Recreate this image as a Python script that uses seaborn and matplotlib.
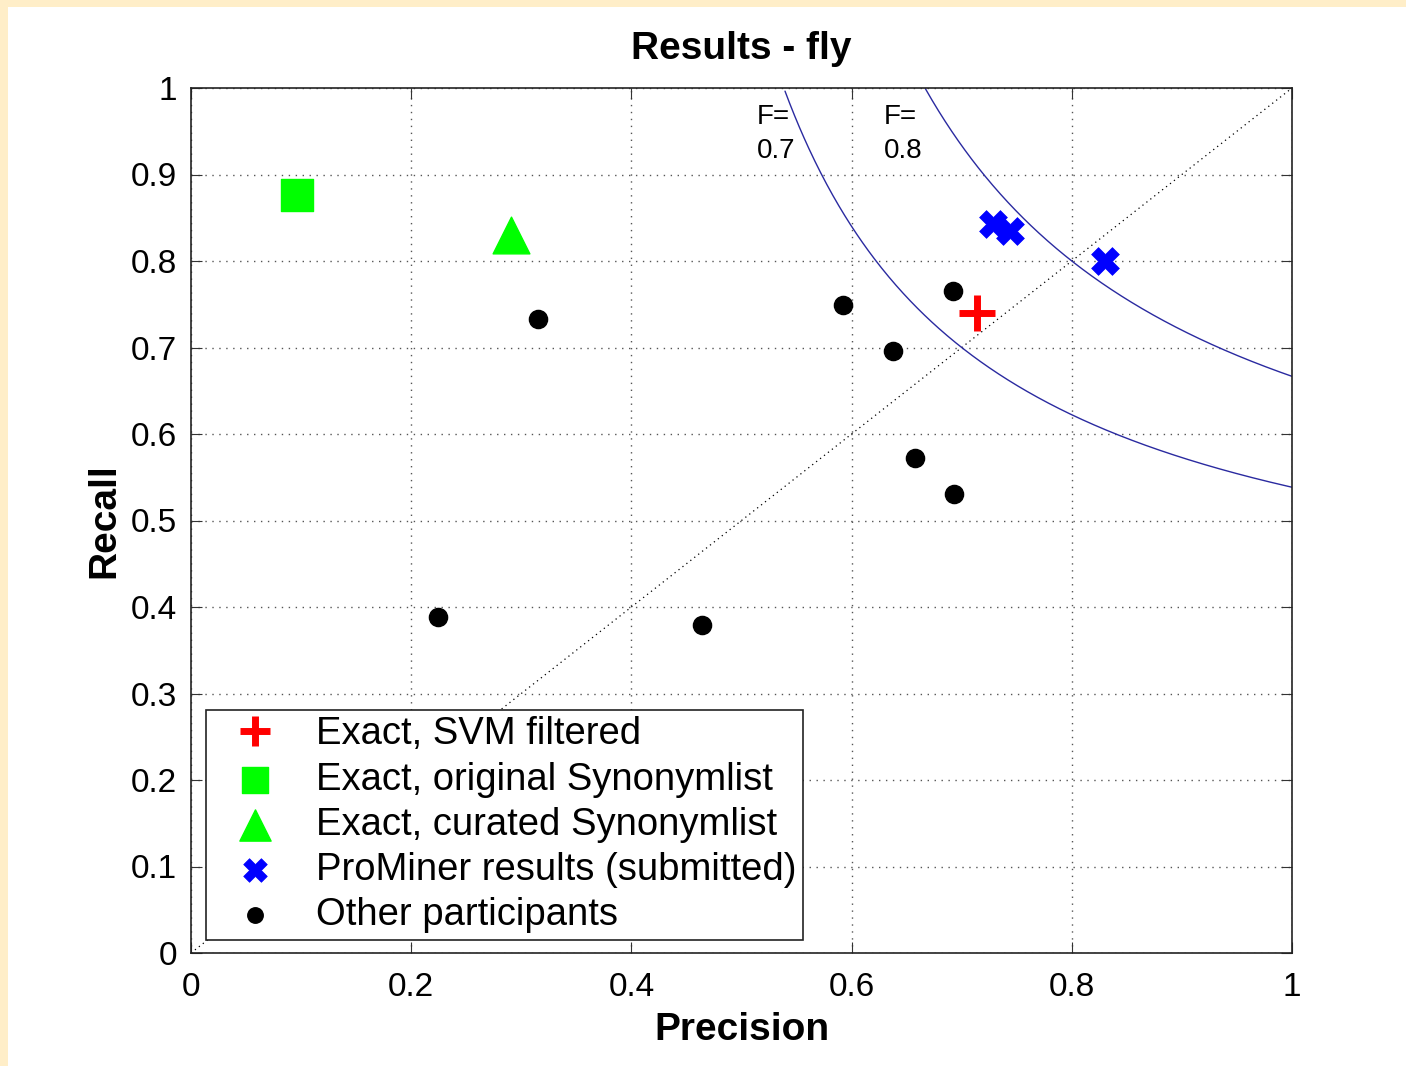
import numpy as np
import pandas as pd
import matplotlib
matplotlib.use("Agg")
import matplotlib.pyplot as plt
import seaborn as sns
from matplotlib.patches import Rectangle

# ---- data ----
svm_p = [0.714]
svm_r = [0.740]
orig_p = [0.096]
orig_r = [0.876]
cur_p = [0.291]
cur_r = [0.830]
prom_p = [0.728, 0.744, 0.830]
prom_r = [0.843, 0.835, 0.800]
other_p = [0.315, 0.592, 0.638, 0.692, 0.658, 0.693, 0.224, 0.464]
other_r = [0.733, 0.749, 0.696, 0.765, 0.572, 0.531, 0.388, 0.379]
f_levels = [0.7, 0.8]
ticks = [0, 0.2, 0.4, 0.6, 0.8, 1]
yticks = [0, 0.1, 0.2, 0.3, 0.4, 0.5, 0.6, 0.7, 0.8, 0.9, 1]
tick_labels_x = ["0", "0.2", "0.4", "0.6", "0.8", "1"]
tick_labels_y = ["0", "0.1", "0.2", "0.3", "0.4", "0.5", "0.6", "0.7", "0.8", "0.9", "1"]

sns.set_style("white")
plt.rcParams['font.family'] = ['Liberation Sans', 'DejaVu Sans']
plt.rcParams['text.color'] = 'black'
plt.rcParams['axes.labelcolor'] = 'black'
plt.rcParams['xtick.color'] = 'black'
plt.rcParams['ytick.color'] = 'black'

fig = plt.figure(figsize=(14.06, 10.66), dpi=100, facecolor="#FFEEC8")
# white panel
fig.patches.append(Rectangle((8 / 1406, 0), 1 - 8 / 1406, 1 - 7 / 1066,
                             transform=fig.transFigure, facecolor="white",
                             edgecolor="none", zorder=-10))
ax = fig.add_axes([191 / 1406, 113 / 1066, 1101 / 1406, 865 / 1066])
ax.set_facecolor("white")

# diagonal and F curves
diag = pd.DataFrame({"p": [0, 1], "r": [0, 1]})
sns.lineplot(data=diag, x="p", y="r", ax=ax, color="black", lw=0.9,
             linestyle=(0, (1, 3)), zorder=1)
for F in f_levels:
    p = np.linspace(F / 2 + 1e-3, 1, 600)
    r = F * p / (2 * p - F)
    m = (r <= 1.0) & (r >= 0)
    dfc = pd.DataFrame({"p": p[m], "r": r[m]})
    sns.lineplot(data=dfc, x="p", y="r", ax=ax, color="#2a2aa0", lw=1.0, zorder=2)

ax.text(0.514, 0.981, "F=\n0.7", fontsize=20, va="top", ha="left", linespacing=1.4)
ax.text(0.629, 0.981, "F=\n0.8", fontsize=20, va="top", ha="left", linespacing=1.4)

ax.plot(svm_p, svm_r, linestyle="none", marker="+", color="#ff0000",
        markersize=26, markeredgewidth=5, label="Exact, SVM filtered", zorder=5)
sns.scatterplot(x=orig_p, y=orig_r, ax=ax, marker="s", s=520, color="#00ff00",
                edgecolor="#00ff00", linewidth=1, label="Exact, original Synonymlist", zorder=5)
sns.scatterplot(x=cur_p, y=cur_r, ax=ax, marker="^", s=700, color="#00ff00",
                edgecolor="#00ff00", linewidth=1, label="Exact, curated Synonymlist", zorder=5)
sns.scatterplot(x=prom_p, y=prom_r, ax=ax, marker="X", s=400, color="#0000ff",
                edgecolor="#0000ff", linewidth=0.5, label="ProMiner results (submitted)", zorder=5)
sns.scatterplot(x=other_p, y=other_r, ax=ax, marker="o", s=170, color="black",
                edgecolor="black", label="Other participants", zorder=5)

ax.set_xlim(0, 1)
ax.set_ylim(0, 1)
ax.set_xticks(ticks)
ax.set_xticklabels(tick_labels_x)
ax.set_yticks(yticks)
ax.set_yticklabels(tick_labels_y)
ax.grid(True, linestyle=(0, (1, 4)), color="#555555", lw=1.0)
ax.tick_params(direction="in", length=8, labelsize=24, color="#333333",
               top=True, right=True, bottom=True, left=True)
ax.tick_params(axis="x", pad=14)
ax.tick_params(axis="y", pad=10)
for s in ax.spines.values():
    s.set_color("#222222")
    s.set_linewidth(1.2)

ax.set_xlabel("Precision", fontsize=28, fontweight="bold", labelpad=6)
ax.set_ylabel("Recall", fontsize=28, fontweight="bold", labelpad=6)
ax.set_title("Results - fly", fontsize=28, fontweight="bold", pad=21)

handles, labels = ax.get_legend_handles_labels()
order = ["Exact, SVM filtered", "Exact, original Synonymlist", "Exact, curated Synonymlist",
         "ProMiner results (submitted)", "Other participants"]
hl = {l: h for h, l in zip(handles, labels)}
leg = ax.legend([hl[o] for o in order], order, loc="lower left",
                bbox_to_anchor=(0.0136, 0.015), borderaxespad=0, fontsize=27.5,
                frameon=True, fancybox=False, edgecolor="#222222", framealpha=1,
                handlelength=2.2, handletextpad=0.5, borderpad=0.18,
                labelspacing=0.24, markerscale=0.85)
leg.get_frame().set_linewidth(1.2)

fig.savefig("out.png", dpi=100, facecolor=fig.get_facecolor())
